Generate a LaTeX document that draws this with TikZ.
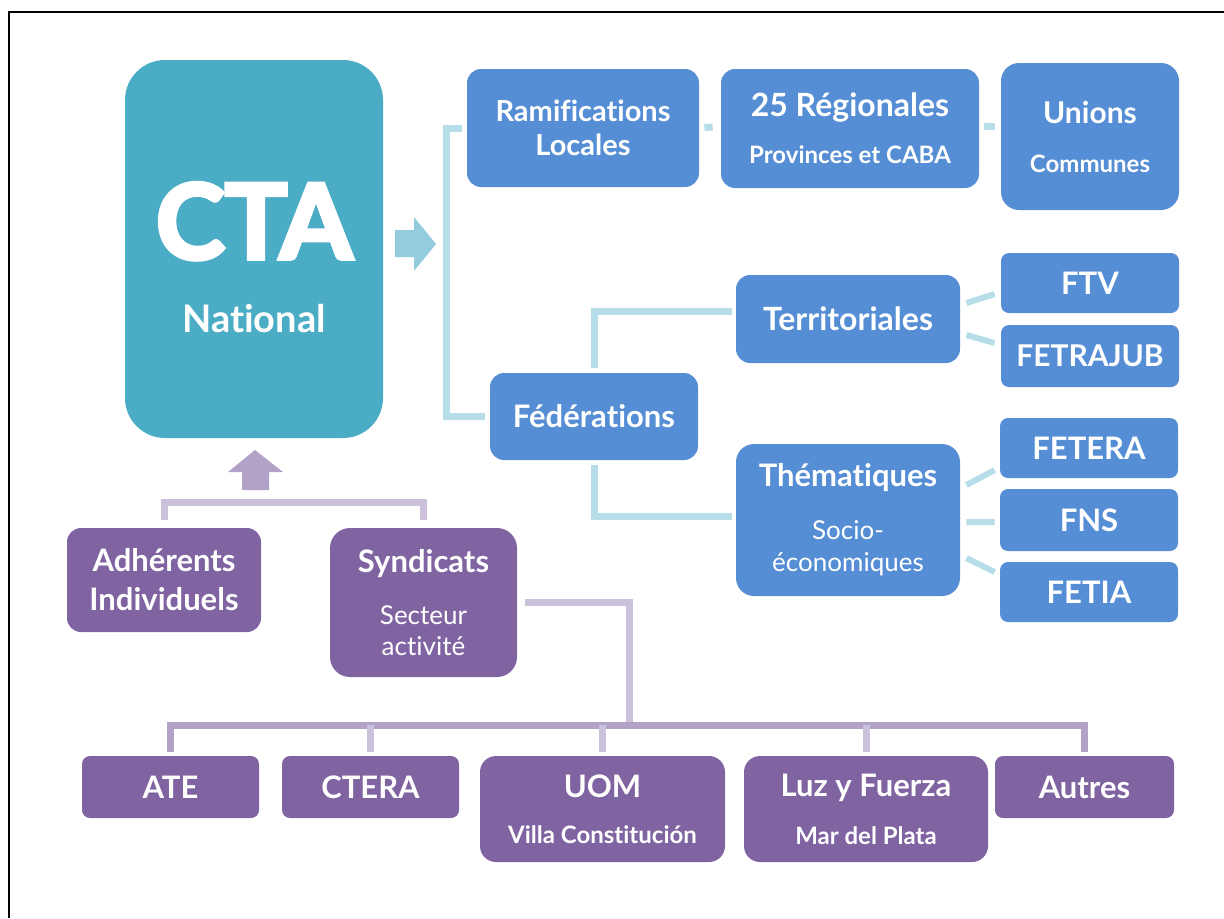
\documentclass[tikz,border=0pt]{standalone}
\usepackage{fontspec}
\setmainfont{Lato}[Ligatures=NoCommon]
\newfontfamily\heavyfont{Lato}[Ligatures=NoCommon,BoldFeatures={FakeBold=4}]
\usetikzlibrary{positioning}
\definecolor{ctateal}{HTML}{4BACC6}
\definecolor{boxblue}{HTML}{558ED5}
\definecolor{boxpurple}{HTML}{8064A2}
\definecolor{lineblue}{HTML}{B7DEE8}
\definecolor{linepurple}{HTML}{CCC1DA}
\definecolor{barpurple}{HTML}{B3A2C7}
\definecolor{arrowteal}{HTML}{93CDDD}

\begin{document}
\begin{tikzpicture}[x=0.5pt,y=-0.5pt,
        box/.style={rounded corners=7pt,text=white,align=center,inner sep=0pt},
        blue box/.style={box,fill=boxblue},
        purple box/.style={box,fill=boxpurple},
        blue line/.style={draw=lineblue,line width=3.5pt},
        purple line/.style={draw=linepurple,line width=3.5pt}]

      \useasboundingbox (0,0) rectangle (1224,918);
      \draw[line width=1pt] (9,918) -- (9,12) -- (1224,12);

      % national level
      \node[box,fill=ctateal,rounded corners=20pt,minimum width=129pt,minimum height=189pt,
        font=\fontsize{52}{37}\selectfont\bfseries] (cta) at (254,249)
        {\rule{0pt}{47pt}{\heavyfont CTA}\\\fontsize{19}{37}\selectfont National};

      % territorial branch
      \node[blue box,minimum width=116pt,minimum height=59pt,
        font=\fontsize{14.5}{17}\selectfont\bfseries] (ram) at (583,128)
        {Ramifications\\Locales};
      \node[blue box,minimum width=129pt,minimum height=59.5pt,
        font=\fontsize{16}{23.5}\selectfont\bfseries] (reg) at (850,128.5)
        {25 Régionales\\\fontsize{12}{23.5}\selectfont Provinces et CABA};
      \node[blue box,rounded corners=9pt,minimum width=89pt,minimum height=73.5pt,
        font=\fontsize{15}{24.5}\selectfont\bfseries] (uni) at (1090,136.5)
        {Unions\\\fontsize{12}{24.5}\selectfont Communes};

      % federations
      \node[blue box,minimum width=104pt,minimum height=43.5pt,
        font=\fontsize{15.5}{18}\selectfont\bfseries] (fed) at (594,416.5) {Fédérations};
      \node[blue box,minimum width=112pt,minimum height=44pt,
        font=\fontsize{16}{18}\selectfont\bfseries] (terr) at (848,319) {Territoriales};
      \node[blue box,rounded corners=9pt,minimum width=112pt,minimum height=76pt,
        font=\fontsize{15.5}{16}\selectfont\bfseries] (them) at (848,520)
        {Thématiques\\[10.5pt]\fontsize{13}{16}\selectfont\mdseries Socio-\\\fontsize{13}{16}\selectfont\mdseries économiques};

      \node[blue box,rounded corners=4pt,minimum width=89pt,minimum height=30pt,
        font=\fontsize{15.5}{18}\selectfont\bfseries] (ftv) at (1090,283) {FTV};
      \node[blue box,rounded corners=4pt,minimum width=89pt,minimum height=31pt,
        font=\fontsize{15}{18}\selectfont\bfseries] (fetrajub) at (1090,356) {FETRAJUB};
      \node[blue box,rounded corners=4pt,minimum width=89pt,minimum height=30pt,
        font=\fontsize{15.5}{18}\selectfont\bfseries] (fetera) at (1089,448) {FETERA};
      \node[blue box,rounded corners=4pt,minimum width=89pt,minimum height=31pt,
        font=\fontsize{15.5}{18}\selectfont\bfseries] (fns) at (1089,520) {FNS};
      \node[blue box,rounded corners=4pt,minimum width=89pt,minimum height=30pt,
        font=\fontsize{15.5}{18}\selectfont\bfseries] (fetia) at (1089,592) {FETIA};

      % members
      \node[purple box,minimum width=97pt,minimum height=52pt,
        font=\fontsize{15.5}{19.5}\selectfont\bfseries] (adh) at (164,580)
        {Adhérents\\Individuels};
      \node[purple box,rounded corners=10pt,minimum width=93.5pt,minimum height=74.5pt,
        font=\fontsize{15.5}{15.5}\selectfont\bfseries] (synd) at (423.5,602.5)
        {Syndicats\\[10.5pt]\fontsize{13}{15.5}\selectfont\mdseries Secteur\\\fontsize{13}{15.5}\selectfont\mdseries activité};

      \node[purple box,rounded corners=4pt,minimum width=88.5pt,minimum height=31pt,
        font=\fontsize{15.5}{18}\selectfont\bfseries] (ate) at (170.5,787) {ATE};
      \node[purple box,rounded corners=4pt,minimum width=88.5pt,minimum height=31pt,
        font=\fontsize{15.5}{18}\selectfont\bfseries] (ctera) at (370.5,787) {CTERA};
      \node[purple box,rounded corners=8pt,minimum width=122.5pt,minimum height=53pt,
        font=\fontsize{15.5}{22.75}\selectfont\bfseries] (uom) at (602.5,809)
        {UOM\\\fontsize{12}{22.75}\selectfont Villa Constitución};
      \node[purple box,rounded corners=8pt,minimum width=122pt,minimum height=53pt,
        font=\fontsize{15.5}{24}\selectfont\bfseries] (luz) at (866,809)
        {Luz y Fuerza\\\fontsize{12}{24}\selectfont Mar del Plata};
      \node[purple box,rounded corners=4pt,minimum width=89.5pt,minimum height=31pt,
        font=\fontsize{15.5}{18}\selectfont\bfseries] (autres) at (1084.5,787) {Autres};

      % block arrows
      \fill[arrowteal] (395,230) -- (414,230) -- (414,217) -- (436,244)
        -- (414,271) -- (414,257) -- (395,257) -- cycle;
      \fill[barpurple] (242,490) -- (242,472) -- (228,472) -- (255,450)
        -- (283,472) -- (269,472) -- (269,490) -- cycle;

      % blue connectors
      \path[blue line,shorten <=2.5pt,shorten >=2.5pt]
        (ram.west) -| ([xshift=-21.5pt]fed.west) -- (fed.west);
      \path[blue line,shorten <=2.5pt,shorten >=4pt] (ram.east) -- ([yshift=1pt]reg.west);
      \path[blue line,shorten <=2.5pt,shorten >=3pt] ([yshift=1pt]reg.east) -- ([yshift=5pt]uni.west);
      \path[blue line,shorten <=2.5pt,shorten >=2pt] (fed.north) |- ([yshift=4pt]terr.west);
      \path[blue line,shorten <=2.5pt,shorten >=2pt] (fed.south) |- ([yshift=2pt]them.west);
      \path[blue line,line width=3pt]
        ([shift={(3pt,8pt)}]terr.east) -- ([shift={(-3pt,-5.5pt)}]ftv.west)
        ([shift={(3pt,-8pt)}]terr.east) -- ([shift={(-3pt,6.5pt)}]fetrajub.west)
        ([shift={(3pt,17.5pt)}]them.east) -- ([shift={(-2.5pt,-11pt)}]fetera.west)
        ([shift={(3pt,-1pt)}]them.east) -- ([shift={(-2.5pt,-1pt)}]fns.west)
        ([shift={(3pt,-19pt)}]them.east) -- ([shift={(-2.5pt,10pt)}]fetia.west);

      % purple connectors
      \path[purple line,shorten <=4pt,shorten >=4pt] (adh.north) -- ++(0,-25) -| (synd.north);
      \coordinate (bar) at (629,725);
      \path[purple line,shorten <=4pt] (synd.east) -| (bar);
      \path[purple line,draw=barpurple,shorten <=2pt,shorten >=2pt] (ate.north) |- (bar) -| (autres.north);
      \foreach \b in {ctera,uom,luz}
        \path[purple line,shorten >=2pt] (\b.north |- bar) -- (\b.north);
    \end{tikzpicture}
\end{document}
